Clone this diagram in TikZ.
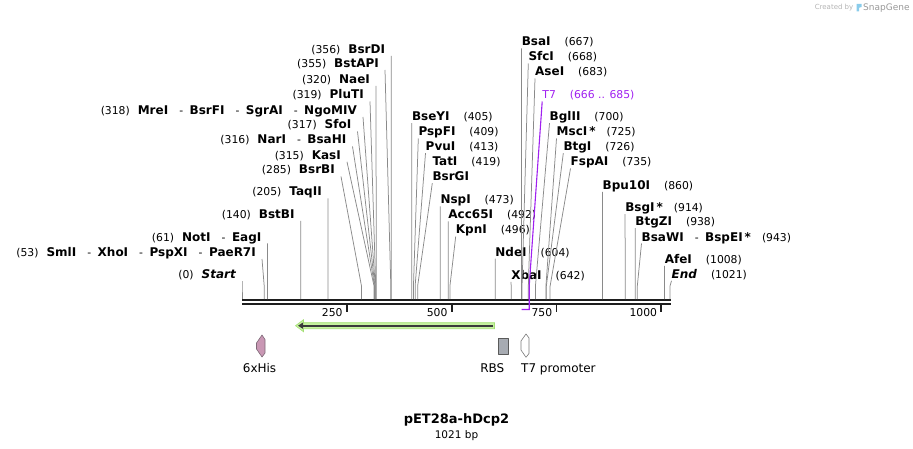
\documentclass[tikz,border=0pt]{standalone}
\usepackage{fontspec}
\setmainfont{DejaVu Sans}
\usetikzlibrary{positioning, arrows.meta, calc}
\definecolor{cSeq}{HTML}{1E1E1E}
\definecolor{cCut}{HTML}{8A8A8A}
\definecolor{cPrimer}{HTML}{A020F0}
\definecolor{cOrf}{HTML}{3A3A3A}
\definecolor{cOrfGlow}{HTML}{C6F2A0}
\definecolor{cOrfEdge}{HTML}{A3DE74}
\definecolor{cHis}{HTML}{C997B4}
\definecolor{cHisEdge}{HTML}{7E6A78}
\definecolor{cRbs}{HTML}{A7ABB2}
\definecolor{cEdge}{HTML}{5A5A5A}
\definecolor{cBrand}{HTML}{B4B4B4}
\definecolor{cLogo}{HTML}{8ACCEB}
\newcommand{\fNum}{\fontsize{10.8}{13}\selectfont}
\newcommand{\fFeat}{\fontsize{12}{14}\selectfont}
\newcommand{\enz}[1]{{\fontsize{12}{14}\selectfont\bfseries #1}}
\newcommand{\enzit}[1]{{\fontsize{12}{14}\selectfont\bfseries\itshape #1}}
\newcommand{\lgap}{\hspace{8pt}}
\newcommand{\rgap}{\hspace{14pt}}
\newcommand{\dsh}{\hspace{11pt}-\hspace{6.5pt}}
\tikzset{
  lsite/.style={anchor=base east, inner sep=0pt, font=\fNum},
  rsite/.style={anchor=base west, inner sep=0pt, font=\fNum},
  cutline/.style={draw=cCut, line width=0.75pt},
  primerline/.style={draw=cPrimer, line width=1.1pt},
  seqline/.style={draw=cSeq, line width=2.3pt},
  tickline/.style={draw=cSeq, line width=1.8pt},
  ticklab/.style={anchor=base east, inner sep=0pt, font=\fNum},
  featlab/.style={inner sep=0pt, font=\fFeat},
  featshape/.style={line width=0.6pt, line join=round},
  orfglow/.style={fill=cOrfGlow, draw=cOrfEdge, line width=0.6pt},
  orfline/.style={draw=cOrf, line width=1.8pt, -{Triangle[length=5pt, width=6pt]}},
}

\begin{document}
\begin{tikzpicture}[x=1pt, y=-1pt]
\useasboundingbox (0,0) rectangle (913,449);

% ---- Sequence ----
\coordinate (seqL) at (242,299);
\coordinate (seqR) at (670.5,299);
\draw[seqline] ([yshift=-1.3pt]seqL) -- ([yshift=-1.3pt]seqR);
\draw[seqline] ([yshift=-5pt]seqL) -- ([yshift=-5pt]seqR);

\foreach \t in {250,500,750,1000} {
  \draw[tickline] ($(seqL)+({\t*0.4192},5.5)$) -- ++(0,7.5);
  \node[ticklab] (tick\t) at ($(seqL)+({\t*0.4192-4},17)$) {\t};
}

% ---- Sites, left of their lines ----
\node[lsite] (bsrdi)    at (385.2,53.5) {(356)\lgap\enz{BsrDI}};
\node[lsite] (bstapi)   at (379,67.5)   {(355)\lgap\enz{BstAPI}};
\node[lsite] (naei)     at (370.1,83.5) {(320)\lgap\enz{NaeI}};
\node[lsite] (pluti)    at (364,99)     {(319)\lgap\enz{PluTI}};
\node[lsite] (mrei)     at (357,114.5)  {(318)\lgap\enz{MreI}\dsh\enz{BsrFI}\dsh\enz{SgrAI}\dsh\enz{NgoMIV}};
\node[lsite] (sfoi)     at (351.5,129)  {(317)\lgap\enz{SfoI}};
\node[lsite] (nari)     at (346.5,144)  {(316)\lgap\enz{NarI}\dsh\enz{BsaHI}};
\node[lsite] (kasi)     at (341,159.3)  {(315)\lgap\enz{KasI}};
\node[lsite] (bsrbi)    at (335,174)    {(285)\lgap\enz{BsrBI}};
\node[lsite] (taqii)    at (321.9,195.8) {(205)\lgap\enz{TaqII}};
\node[lsite] (bstbi)    at (294.7,218.3) {(140)\lgap\enz{BstBI}};
\node[lsite] (noti)     at (261.6,241)  {(61)\lgap\enz{NotI}\dsh\enz{EagI}};
\node[lsite] (smli)     at (256,256.5)  {(53)\lgap\enz{SmlI}\dsh\enz{XhoI}\dsh\enz{PspXI}\dsh\enz{PaeR7I}};
\node[lsite] (startlab) at (236,278.7)  {(0)\lgap\enzit{Start}};

\foreach \nm/\bp in {bsrdi/356, bstapi/355, naei/320, pluti/319, mrei/318,
    sfoi/317, nari/316, kasi/315, bsrbi/285, taqii/205, bstbi/140,
    noti/61, smli/53, startlab/0}
  \draw[cutline] ([xshift=6pt,yshift=-2.5pt]\nm.base east)
    -- ($(seqL)+({\bp*0.4192},-13)$) -- ($(seqL)+({\bp*0.4192},0)$);

% ---- Sites, right of their lines ----
\node[rsite] (bseyi)  at (411.8,120.7) {\enz{BseYI}\rgap(405)};
\node[rsite] (pspfi)  at (418.3,136)   {\enz{PspFI}\rgap(409)};
\node[rsite] (pvui)   at (425.5,150.7) {\enz{PvuI}\rgap(413)};
\node[rsite] (tati)   at (432.3,166)   {\enz{TatI}\rgap(419)};
\node[rsite] (bsrgi)  at (432.3,180.7) {\enz{BsrGI}};
\node[rsite] (nspi)   at (440.3,204)   {\enz{NspI}\rgap(473)};
\node[rsite] (acc)    at (448.2,219)   {\enz{Acc65I}\rgap(492)};
\node[rsite] (kpni)   at (455.7,234)   {\enz{KpnI}\rgap(496)};
\node[rsite] (ndei)   at (495.2,256)   {\enz{NdeI}\rgap(604)};
\node[rsite] (xbai)   at (511.1,279.3) {\enz{XbaI}\rgap(642)};
\node[rsite] (bsai)   at (521.6,46)    {\enz{BsaI}\rgap(667)};
\node[rsite] (sfci)   at (528.3,61)    {\enz{SfcI}\rgap(668)};
\node[rsite] (asei)   at (535,76)      {\enz{AseI}\rgap(683)};
\node[rsite] (bglii)  at (549.5,120.7) {\enz{BglII}\rgap(700)};
\node[rsite] (msci)   at (556.5,136)   {\enz{MscI\,*}\hspace{11pt}(725)};
\node[rsite] (btgi)   at (563.3,150.7) {\enz{BtgI}\rgap(726)};
\node[rsite] (fspai)  at (570.5,166)   {\enz{FspAI}\rgap(735)};
\node[rsite] (bpu)    at (602.5,189.3) {\enz{Bpu10I}\rgap(860)};
\node[rsite] (bsgi)   at (625.1,211.7) {\enz{BsgI\,*}\hspace{11pt}(914)};
\node[rsite] (btgzi)  at (635.2,225.7) {\enz{BtgZI}\rgap(938)};
\node[rsite] (bsawi)  at (641.5,241)   {\enz{BsaWI}\dsh\enz{BspEI\,*}\hspace{11pt}(943)};
\node[rsite] (afei)   at (664.6,263.3) {\enz{AfeI}\rgap(1008)};
\node[rsite] (endlab) at (671.5,278.3) {\enzit{End}\rgap(1021)};

\foreach \nm/\bp in {bseyi/405, pspfi/409, pvui/413, bsrgi/419, nspi/473,
    acc/492, kpni/496, ndei/604, xbai/642, bsai/667, sfci/668, asei/683,
    bglii/700, msci/725, btgi/726, fspai/735, bpu/860, bsgi/914,
    btgzi/938, bsawi/943, afei/1008, endlab/1021}
  \draw[cutline] ([yshift=-2.5pt]\nm.base west)
    -- ($(seqL)+({\bp*0.4192},-13)$) -- ($(seqL)+({\bp*0.4192},0)$);

% ---- T7 primer ----
\node[rsite, text=cPrimer] (t7) at (542.2,98.5) {T7\rgap(666 .. 685)};
\draw[primerline] ([yshift=-3pt]t7.base west)
  -- ($(seqL)+(287.2,-13)$) -- ($(seqL)+(287.2,10.5)$) -- ($(seqL)+(279.6,10.5)$);

% ---- ORF ----
\coordinate (orfTail) at (494.5,325.7);
\coordinate (orfTip) at (295.5,325.7);
\filldraw[orfglow] ([yshift=3pt]orfTail) -- ([xshift=8pt,yshift=3pt]orfTip)
  -- ([xshift=8pt,yshift=6pt]orfTip) -- (orfTip)
  -- ([xshift=8pt,yshift=-6pt]orfTip) -- ([xshift=8pt,yshift=-3pt]orfTip)
  -- ([yshift=-3pt]orfTail) -- cycle;
\draw[orfline] ([xshift=-1.5pt]orfTail) -- ([xshift=2.5pt]orfTip);

% ---- Features ----
\draw[featshape, fill=cHis, draw=cHisEdge] (262,335) -- (265,339.5) -- (265,353)
  -- (262,357) -- (256.5,349) -- (256.5,343) -- cycle;
\draw[featshape, fill=cRbs, draw=cEdge] (498.3,338.3) rectangle (508.3,354);
\draw[featshape, fill=white, draw=cEdge!80] (526,334) -- (529,338) -- (529,353.5)
  -- (526,357.3) -- (521,350) -- (521,341) -- cycle;
\node[featlab, anchor=base west] (hislab) at (242.7,372) {6xHis};
\node[featlab, anchor=base east] (rbslab) at (504.5,372) {RBS};
\node[featlab, anchor=base west] (t7plab) at (521,372) {T7 promoter};

% ---- Title ----
\node[inner sep=0pt, anchor=base, font=\fontsize{13}{15}\selectfont\bfseries]
  (title) at (456.5,423) {pET28a-hDcp2};
\node[inner sep=0pt, below=4.6pt of title, font=\fontsize{10.5}{12}\selectfont]
  (bplen) {1021 bp};

% ---- Brand ----
\node[inner sep=0pt, anchor=base east, text=cBrand, font=\fontsize{7}{8}\selectfont]
  (createdby) at (853.5,10) {Created by};
\fill[cLogo] (856.5,4) -- (861.5,4) -- (861.5,7) -- (859,7.8) -- (859,11.5)
  -- (856.5,11.5) -- cycle;
\node[inner sep=0pt, anchor=base west, text=cBrand!85!black, font=\fontsize{9}{10}\selectfont]
  (snapgene) at (863,10.5) {SnapGene};

\end{tikzpicture}
\end{document}
